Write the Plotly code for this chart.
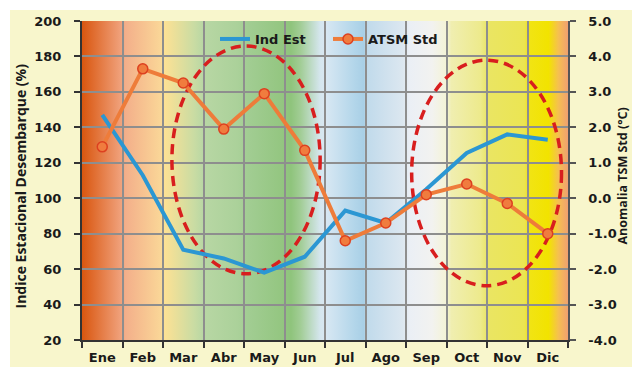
import base64
import plotly.graph_objects as go

# Monthly data
months = ["Ene", "Feb", "Mar", "Abr", "May", "Jun",
          "Jul", "Ago", "Sep", "Oct", "Nov", "Dic"]
ind_est = [147, 113, 71, 66, 58, 67, 93, 86, 105, 125.5, 136, 133]      # Indice estacional (%)
atsm_std = [1.45, 3.65, 3.25, 1.95, 2.95, 1.35, -1.2, -0.7, 0.1, 0.4, -0.15, -1.0]  # anomalia TSM std

# Right-axis ticks
atsm_ticks = [-4, -3, -2, -1, 0, 1, 2, 3, 4, 5]
atsm_ticktext = [f"{v:.1f}" for v in atsm_ticks]

# Seasonal colour band behind the plot (offset fraction, colour)
band_stops = [
    (0.00, "#D9560F"), (0.08, "#F0A17B"), (0.09, "#F3AF8A"), (0.16, "#FAD597"),
    (0.17, "#FDE194"), (0.23, "#CADCA3"), (0.25, "#B8D7A4"), (0.32, "#ABD19A"),
    (0.34, "#A2CD93"), (0.41, "#94C681"), (0.43, "#8FC47C"), (0.45, "#A2CD96"),
    (0.49, "#D5E6EE"), (0.50, "#D9E8F3"), (0.56, "#B3D6EA"), (0.58, "#A8CFE6"),
    (0.585, "#C0DAEB"), (0.66, "#DCE7F0"), (0.675, "#EBEFF5"), (0.72, "#F2F2F0"),
    (0.75, "#F4F3D6"), (0.76, "#F0EEB0"), (0.82, "#EDEA8C"), (0.835, "#EAE563"),
    (0.91, "#EBE553"), (0.92, "#F1E414"), (0.96, "#F2E300"), (0.98, "#F5C050"),
    (1.00, "#F0A070"),
]

stops_svg = "".join(
    f'<stop offset="{o}" stop-color="{c}"/>' for o, c in band_stops
)
svg = (
    '<svg xmlns="http://www.w3.org/2000/svg" width="1000" height="10" '
    'viewBox="0 0 1000 10" preserveAspectRatio="none">'
    f'<defs><linearGradient id="g" x1="0" y1="0" x2="1" y2="0">{stops_svg}</linearGradient></defs>'
    '<rect x="0" y="0" width="1000" height="10" fill="url(#g)"/></svg>'
)
band_src = "data:image/svg+xml;base64," + base64.b64encode(svg.encode()).decode()

W, H = 632, 367
ML, MR, MT, MB = 82, 64, 21, 27
PW = W - ML - MR
PH = H - MT - MB

tick_font = dict(family="DejaVu Sans", size=13, color="#1a1a1a", weight="bold")

fig = go.Figure()

fig.add_trace(go.Scatter(
    x=months, y=ind_est, name="Ind Est", mode="lines",
    line=dict(color="#2B97D3", width=4),
    yaxis="y",
))
fig.add_trace(go.Scatter(
    x=months, y=atsm_std, name="ATSM Std", mode="lines+markers",
    line=dict(color="#EE7C3A", width=4),
    marker=dict(size=10, color="#F07C3E", line=dict(color="#DD4020", width=1.5)),
    yaxis="y2",
))

# Dashed ellipses highlighting the two periods
ellipse_style = dict(color="#D81E1E", width=3.5, dash="10px,6px")
fig.add_shape(type="circle", xref="x", yref="y", x0=1.72, x1=5.38, y0=57.4, y1=185.9,
              line=ellipse_style, layer="between")
fig.add_shape(type="circle", xref="x", yref="y", x0=7.64, x1=11.34, y0=50.6, y1=177.9,
              line=ellipse_style, layer="between")

# White frame strips on top and left of the cream page
fig.add_shape(type="rect", xref="paper", yref="paper",
              x0=(0 - ML) / PW, x1=(W - ML) / PW,
              y0=1 + (MT - 10) / PH, y1=1 + MT / PH + 0.01,
              fillcolor="white", line=dict(width=0), layer="below")
fig.add_shape(type="rect", xref="paper", yref="paper",
              x0=(0 - ML) / PW - 0.01, x1=(10 - ML) / PW,
              y0=-MB / PH - 0.01, y1=1 + MT / PH + 0.01,
              fillcolor="white", line=dict(width=0), layer="below")

fig.add_layout_image(dict(
    source=band_src, xref="paper", yref="paper", x=0, y=1,
    sizex=1, sizey=1, xanchor="left", yanchor="top",
    sizing="stretch", layer="below",
))

fig.update_layout(
    width=W, height=H,
    margin=dict(l=ML, r=MR, t=MT, b=MB, pad=0, autoexpand=False),
    paper_bgcolor="#F8F6CC",
    plot_bgcolor="rgba(0,0,0,0)",
    showlegend=True,
    legend=dict(
        orientation="h", x=(215 - ML) / PW, y=1 - (24 - MT) / PH,
        xanchor="left", yanchor="top",
        bgcolor="rgba(0,0,0,0)", borderwidth=0,
        font=dict(family="DejaVu Sans", size=13, color="#1a1a1a", weight="bold"),
        entrywidth=68, entrywidthmode="pixels",
    ),
    xaxis=dict(
        type="category", tickson="boundaries", ticks="outside", ticklen=6,
        tickcolor="#333333", tickwidth=1.5, automargin=False, ticklabelstandoff=4,
        showgrid=True, gridcolor="#8E8E8E", gridwidth=1.5,
        showline=True, linecolor="#333333", linewidth=2,
        tickfont=tick_font, range=[-0.5, 11.5],
    ),
    yaxis=dict(
        range=[20, 200], dtick=20, ticks="outside", ticklen=6,
        tickcolor="#333333", tickwidth=1.5, ticklabelstandoff=10, automargin=False,
        showgrid=True, gridcolor="#8E8E8E", gridwidth=1.5,
        showline=True, linecolor="#333333", linewidth=2,
        tickfont=tick_font, zeroline=False,
    ),
    yaxis2=dict(
        range=[-4, 5], tickvals=atsm_ticks, ticktext=atsm_ticktext,
        overlaying="y", side="right", automargin=False,
        ticks="outside", ticklen=6, tickcolor="#555555", tickwidth=1.5,
        ticklabelstandoff=10,
        showgrid=False, showline=True, linecolor="#555555", linewidth=1.5,
        tickfont=tick_font, zeroline=False,
    ),
    annotations=[
        dict(text="Indice Estacional Desembarque (%)", textangle=-90,
             xref="paper", yref="paper", x=(9 - ML) / PW, y=0.5 + (180.5 - 186) / PH,
             xanchor="left", yanchor="middle", showarrow=False,
             font=dict(family="Open Sans", size=14, color="#1a1a1a", weight="bold")),
        dict(text="Anomalia TSM Std (°C)", textangle=-90,
             xref="paper", yref="paper", x=(611 - ML) / PW, y=0.5 + (180.5 - 176) / PH,
             xanchor="left", yanchor="middle", showarrow=False,
             font=dict(family="Open Sans", size=12.5, color="#1a1a1a", weight="bold")),
    ],
)

fig.write_html("out.html")
